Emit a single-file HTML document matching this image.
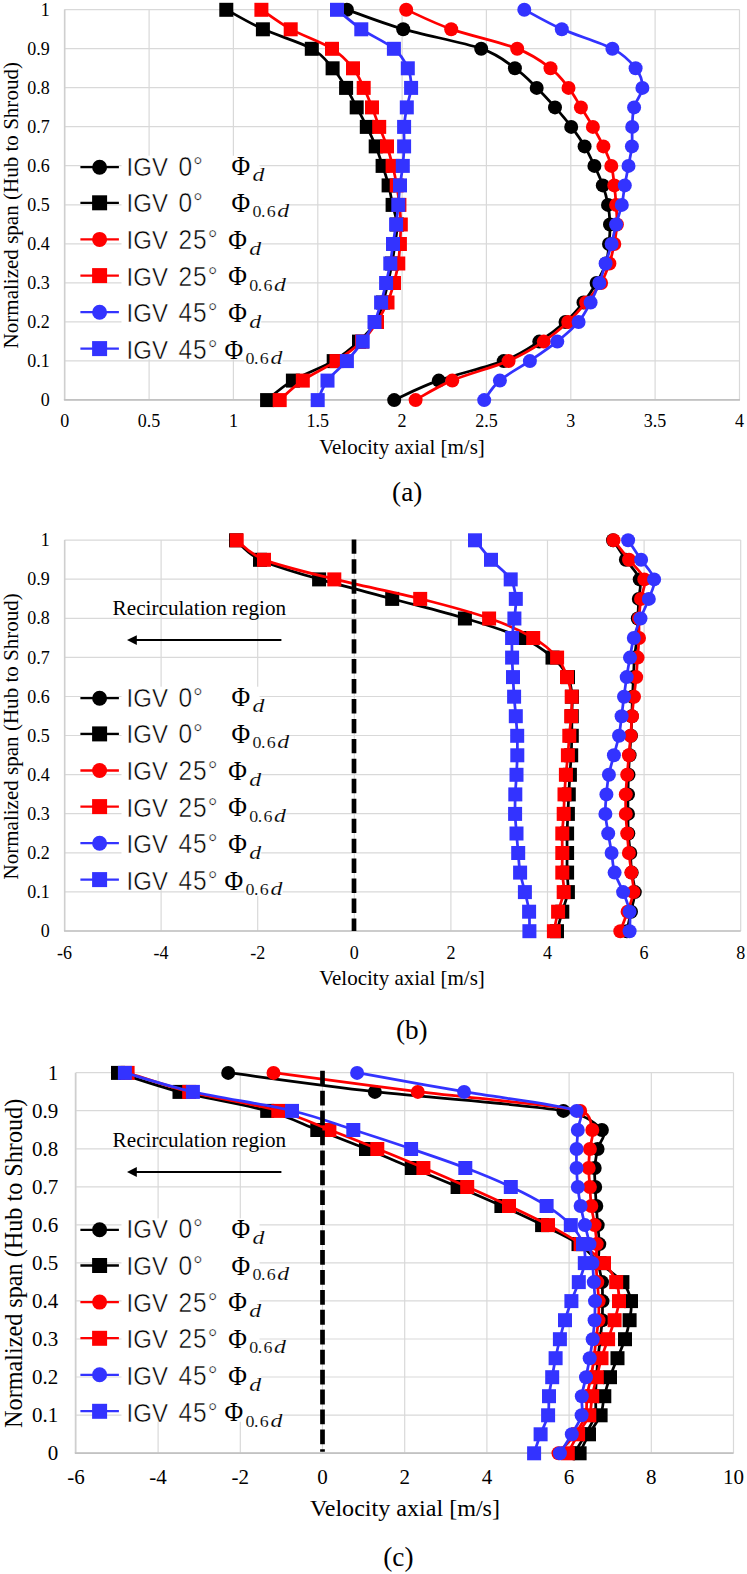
<!DOCTYPE html>
<html><head><meta charset="utf-8"><style>
html,body{margin:0;padding:0;background:#fff;overflow:hidden;}
svg{display:block;}
.sf{font-family:"Liberation Serif",serif;fill:#000;}
.sfi{font-family:"Liberation Serif",serif;font-style:italic;fill:#000;}
.ss{font-family:"Liberation Sans",sans-serif;fill:#000;}
.thin{stroke:#fff;stroke-width:0.45px;}
.thin2{stroke:#fff;stroke-width:0.12px;}
</style></head><body>
<svg width="747" height="1574" viewBox="0 0 747 1574">
<rect width="747" height="1574" fill="#fff"/>
<line x1="64.7" y1="399.9" x2="739.5" y2="399.9" stroke="#D9D9D9" stroke-width="1.2"/>
<line x1="64.7" y1="360.9" x2="739.5" y2="360.9" stroke="#D9D9D9" stroke-width="1.2"/>
<line x1="64.7" y1="321.8" x2="739.5" y2="321.8" stroke="#D9D9D9" stroke-width="1.2"/>
<line x1="64.7" y1="282.8" x2="739.5" y2="282.8" stroke="#D9D9D9" stroke-width="1.2"/>
<line x1="64.7" y1="243.8" x2="739.5" y2="243.8" stroke="#D9D9D9" stroke-width="1.2"/>
<line x1="64.7" y1="204.8" x2="739.5" y2="204.8" stroke="#D9D9D9" stroke-width="1.2"/>
<line x1="64.7" y1="165.7" x2="739.5" y2="165.7" stroke="#D9D9D9" stroke-width="1.2"/>
<line x1="64.7" y1="126.7" x2="739.5" y2="126.7" stroke="#D9D9D9" stroke-width="1.2"/>
<line x1="64.7" y1="87.7" x2="739.5" y2="87.7" stroke="#D9D9D9" stroke-width="1.2"/>
<line x1="64.7" y1="48.6" x2="739.5" y2="48.6" stroke="#D9D9D9" stroke-width="1.2"/>
<line x1="64.7" y1="9.6" x2="739.5" y2="9.6" stroke="#D9D9D9" stroke-width="1.2"/>
<line x1="64.7" y1="9.6" x2="64.7" y2="399.9" stroke="#D9D9D9" stroke-width="1.2"/>
<line x1="149.1" y1="9.6" x2="149.1" y2="399.9" stroke="#D9D9D9" stroke-width="1.2"/>
<line x1="233.4" y1="9.6" x2="233.4" y2="399.9" stroke="#D9D9D9" stroke-width="1.2"/>
<line x1="317.8" y1="9.6" x2="317.8" y2="399.9" stroke="#D9D9D9" stroke-width="1.2"/>
<line x1="402.1" y1="9.6" x2="402.1" y2="399.9" stroke="#D9D9D9" stroke-width="1.2"/>
<line x1="486.4" y1="9.6" x2="486.4" y2="399.9" stroke="#D9D9D9" stroke-width="1.2"/>
<line x1="570.8" y1="9.6" x2="570.8" y2="399.9" stroke="#D9D9D9" stroke-width="1.2"/>
<line x1="655.1" y1="9.6" x2="655.1" y2="399.9" stroke="#D9D9D9" stroke-width="1.2"/>
<line x1="739.5" y1="9.6" x2="739.5" y2="399.9" stroke="#D9D9D9" stroke-width="1.2"/>
<line x1="64.6" y1="9.6" x2="64.6" y2="399.9" stroke="#CFCFCF" stroke-width="1.5"/><line x1="63.89999999999999" y1="399.9" x2="740" y2="399.9" stroke="#C2C2C2" stroke-width="1.7"/>
<text x="49.8" y="406.0" text-anchor="end" class="sf" font-size="18">0</text>
<text x="49.8" y="367.0" text-anchor="end" class="sf" font-size="18">0.1</text>
<text x="49.8" y="328.0" text-anchor="end" class="sf" font-size="18">0.2</text>
<text x="49.8" y="288.9" text-anchor="end" class="sf" font-size="18">0.3</text>
<text x="49.8" y="249.9" text-anchor="end" class="sf" font-size="18">0.4</text>
<text x="49.8" y="210.9" text-anchor="end" class="sf" font-size="18">0.5</text>
<text x="49.8" y="171.8" text-anchor="end" class="sf" font-size="18">0.6</text>
<text x="49.8" y="132.8" text-anchor="end" class="sf" font-size="18">0.7</text>
<text x="49.8" y="93.8" text-anchor="end" class="sf" font-size="18">0.8</text>
<text x="49.8" y="54.7" text-anchor="end" class="sf" font-size="18">0.9</text>
<text x="49.8" y="15.7" text-anchor="end" class="sf" font-size="18">1</text>
<text x="64.7" y="427.0" text-anchor="middle" class="sf" font-size="18">0</text>
<text x="149.1" y="427.0" text-anchor="middle" class="sf" font-size="18">0.5</text>
<text x="233.4" y="427.0" text-anchor="middle" class="sf" font-size="18">1</text>
<text x="317.8" y="427.0" text-anchor="middle" class="sf" font-size="18">1.5</text>
<text x="402.1" y="427.0" text-anchor="middle" class="sf" font-size="18">2</text>
<text x="486.4" y="427.0" text-anchor="middle" class="sf" font-size="18">2.5</text>
<text x="570.8" y="427.0" text-anchor="middle" class="sf" font-size="18">3</text>
<text x="655.1" y="427.0" text-anchor="middle" class="sf" font-size="18">3.5</text>
<text x="739.5" y="427.0" text-anchor="middle" class="sf" font-size="18">4</text>
<rect x="121.5" y="155.7" width="138" height="203.4" fill="#fff"/>
<line x1="80.4" y1="167.2" x2="118.9" y2="167.2" stroke="#000000" stroke-width="2.3"/>
<circle cx="99.6" cy="167.2" r="7.5" fill="#000000"/>
<text x="0" y="0" class="ss thin" font-size="24" transform="translate(126.6,175.6) scale(1,1.1)">IGV</text>
<text x="0" y="0" class="ss thin" font-size="24.5" letter-spacing="1" transform="translate(178.5,175.6) scale(1,1.1)">0°</text>
<text x="231.4" y="175.5" class="sf" font-size="25.5" transform="translate(0,175.5) scale(1,1.04) translate(0,-175.5)">Φ</text>
<rect x="251.4" y="167.4" width="13" height="15" fill="#fff"/>
<text x="0" y="0" class="sfi thin2" font-size="19.5" transform="translate(252.4,181.4) scale(1.22,0.96)">d</text>
<line x1="80.4" y1="202.8" x2="118.9" y2="202.8" stroke="#000000" stroke-width="2.3"/>
<rect x="92.1" y="195.3" width="15" height="15" fill="#000000"/>
<text x="0" y="0" class="ss thin" font-size="24" transform="translate(126.6,212.2) scale(1,1.1)">IGV</text>
<text x="0" y="0" class="ss thin" font-size="24.5" letter-spacing="1" transform="translate(178.5,212.2) scale(1,1.1)">0°</text>
<text x="231.4" y="212.2" class="sf" font-size="25.5" transform="translate(0,212.2) scale(1,1.04) translate(0,-212.2)">Φ</text>
<rect x="251.4" y="204.2" width="38" height="14" fill="#fff"/>
<text x="0" y="0" class="sf thin2" font-size="16" transform="translate(252.4,217.2) scale(1.12,1)">0</text>
<text x="0" y="0" class="sf thin2" font-size="16" transform="translate(261.0,217.2) scale(1.12,1)">.</text>
<text x="0" y="0" class="sf thin2" font-size="16" transform="translate(266.7,217.2) scale(1.12,1)">6</text>
<text x="0" y="0" class="sfi thin2" font-size="19.5" transform="translate(277.3,217.2) scale(1.22,0.96)">d</text>
<line x1="80.4" y1="239.4" x2="118.9" y2="239.4" stroke="#FF0000" stroke-width="2.3"/>
<circle cx="99.6" cy="239.4" r="7.5" fill="#FF0000"/>
<text x="0" y="0" class="ss thin" font-size="24" transform="translate(126.6,248.9) scale(1,1.1)">IGV</text>
<text x="0" y="0" class="ss thin" font-size="24.5" letter-spacing="1" transform="translate(178.5,248.9) scale(1,1.1)">25°</text>
<text x="228.20000000000002" y="248.8" class="sf" font-size="25.5" transform="translate(0,248.8) scale(1,1.04) translate(0,-248.8)">Φ</text>
<rect x="248.2" y="240.7" width="13" height="15" fill="#fff"/>
<text x="0" y="0" class="sfi thin2" font-size="19.5" transform="translate(249.2,254.7) scale(1.22,0.96)">d</text>
<line x1="80.4" y1="275.6" x2="118.9" y2="275.6" stroke="#FF0000" stroke-width="2.3"/>
<rect x="92.1" y="268.1" width="15" height="15" fill="#FF0000"/>
<text x="0" y="0" class="ss thin" font-size="24" transform="translate(126.6,285.5) scale(1,1.1)">IGV</text>
<text x="0" y="0" class="ss thin" font-size="24.5" letter-spacing="1" transform="translate(178.5,285.5) scale(1,1.1)">25°</text>
<text x="228.20000000000002" y="285.4" class="sf" font-size="25.5" transform="translate(0,285.4) scale(1,1.04) translate(0,-285.4)">Φ</text>
<rect x="248.2" y="277.5" width="38" height="14" fill="#fff"/>
<text x="0" y="0" class="sf thin2" font-size="16" transform="translate(249.2,290.5) scale(1.12,1)">0</text>
<text x="0" y="0" class="sf thin2" font-size="16" transform="translate(257.8,290.5) scale(1.12,1)">.</text>
<text x="0" y="0" class="sf thin2" font-size="16" transform="translate(263.5,290.5) scale(1.12,1)">6</text>
<text x="0" y="0" class="sfi thin2" font-size="19.5" transform="translate(274.1,290.5) scale(1.22,0.96)">d</text>
<line x1="80.4" y1="312.2" x2="118.9" y2="312.2" stroke="#3333FF" stroke-width="2.3"/>
<circle cx="99.6" cy="312.2" r="7.5" fill="#3333FF"/>
<text x="0" y="0" class="ss thin" font-size="24" transform="translate(126.6,322.2) scale(1,1.1)">IGV</text>
<text x="0" y="0" class="ss thin" font-size="24.5" letter-spacing="1" transform="translate(178.5,322.2) scale(1,1.1)">45°</text>
<text x="228.20000000000002" y="322.1" class="sf" font-size="25.5" transform="translate(0,322.1) scale(1,1.04) translate(0,-322.1)">Φ</text>
<rect x="248.2" y="314.0" width="13" height="15" fill="#fff"/>
<text x="0" y="0" class="sfi thin2" font-size="19.5" transform="translate(249.2,328.0) scale(1.22,0.96)">d</text>
<line x1="80.4" y1="348.6" x2="118.9" y2="348.6" stroke="#3333FF" stroke-width="2.3"/>
<rect x="92.1" y="341.1" width="15" height="15" fill="#3333FF"/>
<text x="0" y="0" class="ss thin" font-size="24" transform="translate(126.6,358.8) scale(1,1.1)">IGV</text>
<text x="0" y="0" class="ss thin" font-size="24.5" letter-spacing="1" transform="translate(178.5,358.8) scale(1,1.1)">45°</text>
<text x="224.5" y="358.8" class="sf" font-size="25.5" transform="translate(0,358.8) scale(1,1.04) translate(0,-358.8)">Φ</text>
<rect x="244.5" y="350.8" width="38" height="14" fill="#fff"/>
<text x="0" y="0" class="sf thin2" font-size="16" transform="translate(245.5,363.8) scale(1.12,1)">0</text>
<text x="0" y="0" class="sf thin2" font-size="16" transform="translate(254.1,363.8) scale(1.12,1)">.</text>
<text x="0" y="0" class="sf thin2" font-size="16" transform="translate(259.8,363.8) scale(1.12,1)">6</text>
<text x="0" y="0" class="sfi thin2" font-size="19.5" transform="translate(270.4,363.8) scale(1.22,0.96)">d</text>
<path d="M394.20,399.90 C401.63,396.65 420.55,386.89 438.80,380.38 C457.05,373.88 486.95,367.38 503.70,360.87 C520.45,354.37 529.00,347.86 539.30,341.35 C549.60,334.85 558.13,328.34 565.50,321.84 C572.87,315.33 578.32,308.83 583.50,302.32 C588.68,295.82 592.85,289.31 596.60,282.81 C600.35,276.30 603.93,269.80 606.00,263.29 C608.07,256.79 608.33,250.28 609.00,243.78 C609.67,237.27 610.17,230.77 610.00,224.26 C609.83,217.76 609.20,211.25 608.00,204.75 C606.80,198.25 605.07,191.74 602.80,185.23 C600.53,178.73 597.43,172.22 594.40,165.72 C591.37,159.21 588.47,152.71 584.60,146.20 C580.73,139.70 576.13,133.19 571.20,126.69 C566.27,120.19 560.75,113.68 555.00,107.18 C549.25,100.67 543.38,94.16 536.70,87.66 C530.02,81.15 524.15,74.65 514.90,68.14 C505.65,61.64 499.58,55.05 481.20,48.63 C462.58,42.12 425.58,35.62 403.20,29.12 C380.82,22.61 356.28,12.85 346.90,9.60" fill="none" stroke="#000000" stroke-width="2.75" stroke-linejoin="round"/>
<circle cx="394.2" cy="400.1" r="7.0" fill="#000000"/>
<circle cx="438.8" cy="380.6" r="7.0" fill="#000000"/>
<circle cx="503.7" cy="361.1" r="7.0" fill="#000000"/>
<circle cx="539.3" cy="341.6" r="7.0" fill="#000000"/>
<circle cx="565.5" cy="322.0" r="7.0" fill="#000000"/>
<circle cx="583.5" cy="302.5" r="7.0" fill="#000000"/>
<circle cx="596.6" cy="283.0" r="7.0" fill="#000000"/>
<circle cx="606.0" cy="263.5" r="7.0" fill="#000000"/>
<circle cx="609.0" cy="244.0" r="7.0" fill="#000000"/>
<circle cx="610.0" cy="224.5" r="7.0" fill="#000000"/>
<circle cx="608.0" cy="204.9" r="7.0" fill="#000000"/>
<circle cx="602.8" cy="185.4" r="7.0" fill="#000000"/>
<circle cx="594.4" cy="165.9" r="7.0" fill="#000000"/>
<circle cx="584.6" cy="146.4" r="7.0" fill="#000000"/>
<circle cx="571.2" cy="126.9" r="7.0" fill="#000000"/>
<circle cx="555.0" cy="107.4" r="7.0" fill="#000000"/>
<circle cx="536.7" cy="87.9" r="7.0" fill="#000000"/>
<circle cx="514.9" cy="68.3" r="7.0" fill="#000000"/>
<circle cx="481.2" cy="48.8" r="7.0" fill="#000000"/>
<circle cx="403.2" cy="29.3" r="7.0" fill="#000000"/>
<circle cx="346.9" cy="9.8" r="7.0" fill="#000000"/>
<path d="M267.10,399.90 C271.40,396.65 281.80,386.89 292.90,380.38 C304.00,373.88 322.68,367.38 333.70,360.87 C344.72,354.37 351.95,347.86 359.00,341.35 C366.05,334.85 372.00,328.34 376.00,321.84 C380.00,315.33 381.00,308.83 383.00,302.32 C385.00,295.82 386.50,289.31 388.00,282.81 C389.50,276.30 390.83,269.80 392.00,263.29 C393.17,256.79 394.17,250.28 395.00,243.78 C395.83,237.27 397.40,230.77 397.00,224.26 C396.60,217.76 394.00,211.25 392.60,204.75 C391.20,198.25 390.27,191.74 388.60,185.23 C386.93,178.73 384.75,172.22 382.60,165.72 C380.45,159.21 378.33,152.71 375.70,146.20 C373.07,139.70 369.97,133.19 366.80,126.69 C363.63,120.19 360.15,113.68 356.70,107.18 C353.25,100.67 350.12,94.16 346.10,87.66 C342.08,81.15 338.32,74.65 332.60,68.14 C326.88,61.64 323.42,55.13 311.80,48.63 C300.18,42.12 277.15,35.62 262.90,29.12 C248.65,22.61 232.40,12.85 226.30,9.60" fill="none" stroke="#000000" stroke-width="2.75" stroke-linejoin="round"/>
<rect x="260.1" y="393.1" width="14" height="14" fill="#000000"/>
<rect x="285.9" y="373.6" width="14" height="14" fill="#000000"/>
<rect x="326.7" y="354.1" width="14" height="14" fill="#000000"/>
<rect x="352.0" y="334.6" width="14" height="14" fill="#000000"/>
<rect x="369.0" y="315.0" width="14" height="14" fill="#000000"/>
<rect x="376.0" y="295.5" width="14" height="14" fill="#000000"/>
<rect x="381.0" y="276.0" width="14" height="14" fill="#000000"/>
<rect x="385.0" y="256.5" width="14" height="14" fill="#000000"/>
<rect x="388.0" y="237.0" width="14" height="14" fill="#000000"/>
<rect x="390.0" y="217.5" width="14" height="14" fill="#000000"/>
<rect x="385.6" y="197.9" width="14" height="14" fill="#000000"/>
<rect x="381.6" y="178.4" width="14" height="14" fill="#000000"/>
<rect x="375.6" y="158.9" width="14" height="14" fill="#000000"/>
<rect x="368.7" y="139.4" width="14" height="14" fill="#000000"/>
<rect x="359.8" y="119.9" width="14" height="14" fill="#000000"/>
<rect x="349.7" y="100.4" width="14" height="14" fill="#000000"/>
<rect x="339.1" y="80.9" width="14" height="14" fill="#000000"/>
<rect x="325.6" y="61.3" width="14" height="14" fill="#000000"/>
<rect x="304.8" y="41.8" width="14" height="14" fill="#000000"/>
<rect x="255.9" y="22.3" width="14" height="14" fill="#000000"/>
<rect x="219.3" y="2.8" width="14" height="14" fill="#000000"/>
<path d="M415.60,399.90 C421.72,396.65 436.80,386.89 452.30,380.38 C467.80,373.88 493.35,367.38 508.60,360.87 C523.85,354.37 533.87,347.86 543.80,341.35 C553.73,334.85 561.15,328.34 568.20,321.84 C575.25,315.33 580.62,308.83 586.10,302.32 C591.58,295.82 597.22,289.31 601.10,282.81 C604.98,276.30 607.20,269.80 609.40,263.29 C611.60,256.79 613.05,250.28 614.30,243.78 C615.55,237.27 616.60,230.77 616.90,224.26 C617.20,217.76 616.53,211.25 616.10,204.75 C615.67,198.25 615.10,191.74 614.30,185.23 C613.50,178.73 613.12,172.22 611.30,165.72 C609.48,159.21 606.47,152.71 603.40,146.20 C600.33,139.70 596.65,133.19 592.90,126.69 C589.15,120.19 584.97,113.68 580.90,107.18 C576.83,100.67 573.57,94.16 568.50,87.66 C563.43,81.15 559.05,74.65 550.50,68.14 C541.95,61.64 533.75,55.13 517.20,48.63 C500.65,42.12 469.70,35.62 451.20,29.12 C432.70,22.61 413.70,12.85 406.20,9.60" fill="none" stroke="#FF0000" stroke-width="2.75" stroke-linejoin="round"/>
<circle cx="415.6" cy="400.1" r="7.0" fill="#FF0000"/>
<circle cx="452.3" cy="380.6" r="7.0" fill="#FF0000"/>
<circle cx="508.6" cy="361.1" r="7.0" fill="#FF0000"/>
<circle cx="543.8" cy="341.6" r="7.0" fill="#FF0000"/>
<circle cx="568.2" cy="322.0" r="7.0" fill="#FF0000"/>
<circle cx="586.1" cy="302.5" r="7.0" fill="#FF0000"/>
<circle cx="601.1" cy="283.0" r="7.0" fill="#FF0000"/>
<circle cx="609.4" cy="263.5" r="7.0" fill="#FF0000"/>
<circle cx="614.3" cy="244.0" r="7.0" fill="#FF0000"/>
<circle cx="616.9" cy="224.5" r="7.0" fill="#FF0000"/>
<circle cx="616.1" cy="204.9" r="7.0" fill="#FF0000"/>
<circle cx="614.3" cy="185.4" r="7.0" fill="#FF0000"/>
<circle cx="611.3" cy="165.9" r="7.0" fill="#FF0000"/>
<circle cx="603.4" cy="146.4" r="7.0" fill="#FF0000"/>
<circle cx="592.9" cy="126.9" r="7.0" fill="#FF0000"/>
<circle cx="580.9" cy="107.4" r="7.0" fill="#FF0000"/>
<circle cx="568.5" cy="87.9" r="7.0" fill="#FF0000"/>
<circle cx="550.5" cy="68.3" r="7.0" fill="#FF0000"/>
<circle cx="517.2" cy="48.8" r="7.0" fill="#FF0000"/>
<circle cx="451.2" cy="29.3" r="7.0" fill="#FF0000"/>
<circle cx="406.2" cy="9.8" r="7.0" fill="#FF0000"/>
<path d="M279.70,399.90 C283.55,396.65 293.33,386.89 302.80,380.38 C312.27,373.88 326.63,367.38 336.50,360.87 C346.37,354.37 355.25,347.86 362.00,341.35 C368.75,334.85 372.75,328.34 377.00,321.84 C381.25,315.33 384.67,308.83 387.50,302.32 C390.33,295.82 392.20,289.31 394.00,282.81 C395.80,276.30 397.32,269.80 398.30,263.29 C399.28,256.79 399.48,250.28 399.90,243.78 C400.32,237.27 400.88,230.77 400.80,224.26 C400.72,217.76 400.08,211.25 399.40,204.75 C398.72,198.25 397.83,191.74 396.70,185.23 C395.57,178.73 394.22,172.22 392.60,165.72 C390.98,159.21 389.23,152.71 387.00,146.20 C384.77,139.70 381.70,133.19 379.20,126.69 C376.70,120.19 374.58,113.68 372.00,107.18 C369.42,100.67 366.87,94.16 363.70,87.66 C360.53,81.15 358.28,74.65 353.00,68.14 C347.72,61.64 342.38,55.13 332.00,48.63 C321.62,42.12 302.47,35.62 290.70,29.12 C278.93,22.61 266.28,12.85 261.40,9.60" fill="none" stroke="#FF0000" stroke-width="2.75" stroke-linejoin="round"/>
<rect x="272.7" y="393.1" width="14" height="14" fill="#FF0000"/>
<rect x="295.8" y="373.6" width="14" height="14" fill="#FF0000"/>
<rect x="329.5" y="354.1" width="14" height="14" fill="#FF0000"/>
<rect x="355.0" y="334.6" width="14" height="14" fill="#FF0000"/>
<rect x="370.0" y="315.0" width="14" height="14" fill="#FF0000"/>
<rect x="380.5" y="295.5" width="14" height="14" fill="#FF0000"/>
<rect x="387.0" y="276.0" width="14" height="14" fill="#FF0000"/>
<rect x="391.3" y="256.5" width="14" height="14" fill="#FF0000"/>
<rect x="392.9" y="237.0" width="14" height="14" fill="#FF0000"/>
<rect x="393.8" y="217.5" width="14" height="14" fill="#FF0000"/>
<rect x="392.4" y="197.9" width="14" height="14" fill="#FF0000"/>
<rect x="389.7" y="178.4" width="14" height="14" fill="#FF0000"/>
<rect x="385.6" y="158.9" width="14" height="14" fill="#FF0000"/>
<rect x="380.0" y="139.4" width="14" height="14" fill="#FF0000"/>
<rect x="372.2" y="119.9" width="14" height="14" fill="#FF0000"/>
<rect x="365.0" y="100.4" width="14" height="14" fill="#FF0000"/>
<rect x="356.7" y="80.9" width="14" height="14" fill="#FF0000"/>
<rect x="346.0" y="61.3" width="14" height="14" fill="#FF0000"/>
<rect x="325.0" y="41.8" width="14" height="14" fill="#FF0000"/>
<rect x="283.7" y="22.3" width="14" height="14" fill="#FF0000"/>
<rect x="254.4" y="2.8" width="14" height="14" fill="#FF0000"/>
<path d="M484.20,399.90 C486.82,396.65 492.28,386.89 499.90,380.38 C507.52,373.88 520.33,367.38 529.90,360.87 C539.47,354.37 549.18,347.86 557.30,341.35 C565.42,334.85 573.05,328.34 578.60,321.84 C584.15,315.33 587.15,308.83 590.60,302.32 C594.05,295.82 596.80,289.31 599.30,282.81 C601.80,276.30 603.55,269.80 605.60,263.29 C607.65,256.79 609.85,250.28 611.60,243.78 C613.35,237.27 614.40,230.77 616.10,224.26 C617.80,217.76 620.35,211.25 621.80,204.75 C623.25,198.25 623.68,191.74 624.80,185.23 C625.92,178.73 627.32,172.22 628.50,165.72 C629.68,159.21 631.28,152.71 631.90,146.20 C632.52,139.70 631.83,133.19 632.20,126.69 C632.57,120.19 632.40,113.68 634.10,107.18 C635.80,100.67 642.15,94.16 642.40,87.66 C642.65,81.15 640.60,74.65 635.60,68.14 C630.60,61.64 624.70,55.13 612.40,48.63 C600.10,42.12 576.48,35.62 561.80,29.12 C547.12,22.61 530.55,12.85 524.30,9.60" fill="none" stroke="#3333FF" stroke-width="2.75" stroke-linejoin="round"/>
<circle cx="484.2" cy="400.1" r="7.0" fill="#3333FF"/>
<circle cx="499.9" cy="380.6" r="7.0" fill="#3333FF"/>
<circle cx="529.9" cy="361.1" r="7.0" fill="#3333FF"/>
<circle cx="557.3" cy="341.6" r="7.0" fill="#3333FF"/>
<circle cx="578.6" cy="322.0" r="7.0" fill="#3333FF"/>
<circle cx="590.6" cy="302.5" r="7.0" fill="#3333FF"/>
<circle cx="599.3" cy="283.0" r="7.0" fill="#3333FF"/>
<circle cx="605.6" cy="263.5" r="7.0" fill="#3333FF"/>
<circle cx="611.6" cy="244.0" r="7.0" fill="#3333FF"/>
<circle cx="616.1" cy="224.5" r="7.0" fill="#3333FF"/>
<circle cx="621.8" cy="204.9" r="7.0" fill="#3333FF"/>
<circle cx="624.8" cy="185.4" r="7.0" fill="#3333FF"/>
<circle cx="628.5" cy="165.9" r="7.0" fill="#3333FF"/>
<circle cx="631.9" cy="146.4" r="7.0" fill="#3333FF"/>
<circle cx="632.2" cy="126.9" r="7.0" fill="#3333FF"/>
<circle cx="634.1" cy="107.4" r="7.0" fill="#3333FF"/>
<circle cx="642.4" cy="87.9" r="7.0" fill="#3333FF"/>
<circle cx="635.6" cy="68.3" r="7.0" fill="#3333FF"/>
<circle cx="612.4" cy="48.8" r="7.0" fill="#3333FF"/>
<circle cx="561.8" cy="29.3" r="7.0" fill="#3333FF"/>
<circle cx="524.3" cy="9.8" r="7.0" fill="#3333FF"/>
<path d="M317.70,399.90 C319.33,396.65 322.63,386.89 327.50,380.38 C332.37,373.88 341.03,367.38 346.90,360.87 C352.77,354.37 358.10,347.86 362.70,341.35 C367.30,334.85 371.43,328.34 374.50,321.84 C377.57,315.33 379.17,308.83 381.10,302.32 C383.03,295.82 384.57,289.31 386.10,282.81 C387.63,276.30 389.15,269.80 390.30,263.29 C391.45,256.79 392.03,250.28 393.00,243.78 C393.97,237.27 395.22,230.77 396.10,224.26 C396.98,217.76 397.65,211.25 398.30,204.75 C398.95,198.25 399.25,191.74 400.00,185.23 C400.75,178.73 402.12,172.22 402.80,165.72 C403.48,159.21 403.88,152.71 404.10,146.20 C404.32,139.70 403.65,133.19 404.10,126.69 C404.55,120.19 405.63,113.68 406.80,107.18 C407.97,100.67 410.93,94.16 411.10,87.66 C411.27,81.15 410.67,74.65 407.80,68.14 C404.93,61.64 401.65,55.13 393.90,48.63 C386.15,42.12 370.78,35.62 361.30,29.12 C351.82,22.61 341.05,12.85 337.00,9.60" fill="none" stroke="#3333FF" stroke-width="2.75" stroke-linejoin="round"/>
<rect x="310.7" y="393.1" width="14" height="14" fill="#3333FF"/>
<rect x="320.5" y="373.6" width="14" height="14" fill="#3333FF"/>
<rect x="339.9" y="354.1" width="14" height="14" fill="#3333FF"/>
<rect x="355.7" y="334.6" width="14" height="14" fill="#3333FF"/>
<rect x="367.5" y="315.0" width="14" height="14" fill="#3333FF"/>
<rect x="374.1" y="295.5" width="14" height="14" fill="#3333FF"/>
<rect x="379.1" y="276.0" width="14" height="14" fill="#3333FF"/>
<rect x="383.3" y="256.5" width="14" height="14" fill="#3333FF"/>
<rect x="386.0" y="237.0" width="14" height="14" fill="#3333FF"/>
<rect x="389.1" y="217.5" width="14" height="14" fill="#3333FF"/>
<rect x="391.3" y="197.9" width="14" height="14" fill="#3333FF"/>
<rect x="393.0" y="178.4" width="14" height="14" fill="#3333FF"/>
<rect x="395.8" y="158.9" width="14" height="14" fill="#3333FF"/>
<rect x="397.1" y="139.4" width="14" height="14" fill="#3333FF"/>
<rect x="397.1" y="119.9" width="14" height="14" fill="#3333FF"/>
<rect x="399.8" y="100.4" width="14" height="14" fill="#3333FF"/>
<rect x="404.1" y="80.9" width="14" height="14" fill="#3333FF"/>
<rect x="400.8" y="61.3" width="14" height="14" fill="#3333FF"/>
<rect x="386.9" y="41.8" width="14" height="14" fill="#3333FF"/>
<rect x="354.3" y="22.3" width="14" height="14" fill="#3333FF"/>
<rect x="330.0" y="2.8" width="14" height="14" fill="#3333FF"/>
<text x="402" y="454" text-anchor="middle" class="sf" font-size="21">Velocity axial [m/s]</text>
<text transform="translate(18.4,205.25) rotate(-90)" text-anchor="middle" class="sf" font-size="21.05">Normalized span (Hub to Shroud)</text>
<text x="407.2" y="501" text-anchor="middle" class="sf" font-size="27.2">(a)</text>
<line x1="64.5" y1="931.0" x2="740.7" y2="931.0" stroke="#D9D9D9" stroke-width="1.2"/>
<line x1="64.5" y1="891.9" x2="740.7" y2="891.9" stroke="#D9D9D9" stroke-width="1.2"/>
<line x1="64.5" y1="852.8" x2="740.7" y2="852.8" stroke="#D9D9D9" stroke-width="1.2"/>
<line x1="64.5" y1="813.7" x2="740.7" y2="813.7" stroke="#D9D9D9" stroke-width="1.2"/>
<line x1="64.5" y1="774.6" x2="740.7" y2="774.6" stroke="#D9D9D9" stroke-width="1.2"/>
<line x1="64.5" y1="735.5" x2="740.7" y2="735.5" stroke="#D9D9D9" stroke-width="1.2"/>
<line x1="64.5" y1="696.5" x2="740.7" y2="696.5" stroke="#D9D9D9" stroke-width="1.2"/>
<line x1="64.5" y1="657.4" x2="740.7" y2="657.4" stroke="#D9D9D9" stroke-width="1.2"/>
<line x1="64.5" y1="618.3" x2="740.7" y2="618.3" stroke="#D9D9D9" stroke-width="1.2"/>
<line x1="64.5" y1="579.2" x2="740.7" y2="579.2" stroke="#D9D9D9" stroke-width="1.2"/>
<line x1="64.5" y1="540.1" x2="740.7" y2="540.1" stroke="#D9D9D9" stroke-width="1.2"/>
<line x1="64.5" y1="540.1" x2="64.5" y2="931" stroke="#D9D9D9" stroke-width="1.2"/>
<line x1="161.1" y1="540.1" x2="161.1" y2="931" stroke="#D9D9D9" stroke-width="1.2"/>
<line x1="257.7" y1="540.1" x2="257.7" y2="931" stroke="#D9D9D9" stroke-width="1.2"/>
<line x1="354.3" y1="540.1" x2="354.3" y2="931" stroke="#D9D9D9" stroke-width="1.2"/>
<line x1="450.9" y1="540.1" x2="450.9" y2="931" stroke="#D9D9D9" stroke-width="1.2"/>
<line x1="547.5" y1="540.1" x2="547.5" y2="931" stroke="#D9D9D9" stroke-width="1.2"/>
<line x1="644.1" y1="540.1" x2="644.1" y2="931" stroke="#D9D9D9" stroke-width="1.2"/>
<line x1="740.7" y1="540.1" x2="740.7" y2="931" stroke="#D9D9D9" stroke-width="1.2"/>
<line x1="64.7" y1="540.1" x2="64.7" y2="931" stroke="#CFCFCF" stroke-width="1.5"/><line x1="64.0" y1="931" x2="740.7" y2="931" stroke="#C2C2C2" stroke-width="1.7"/>
<text x="49.8" y="937.1" text-anchor="end" class="sf" font-size="18">0</text>
<text x="49.8" y="898.0" text-anchor="end" class="sf" font-size="18">0.1</text>
<text x="49.8" y="858.9" text-anchor="end" class="sf" font-size="18">0.2</text>
<text x="49.8" y="819.9" text-anchor="end" class="sf" font-size="18">0.3</text>
<text x="49.8" y="780.8" text-anchor="end" class="sf" font-size="18">0.4</text>
<text x="49.8" y="741.7" text-anchor="end" class="sf" font-size="18">0.5</text>
<text x="49.8" y="702.6" text-anchor="end" class="sf" font-size="18">0.6</text>
<text x="49.8" y="663.5" text-anchor="end" class="sf" font-size="18">0.7</text>
<text x="49.8" y="624.4" text-anchor="end" class="sf" font-size="18">0.8</text>
<text x="49.8" y="585.3" text-anchor="end" class="sf" font-size="18">0.9</text>
<text x="49.8" y="546.2" text-anchor="end" class="sf" font-size="18">1</text>
<text x="64.5" y="958.5" text-anchor="middle" class="sf" font-size="18">-6</text>
<text x="161.1" y="958.5" text-anchor="middle" class="sf" font-size="18">-4</text>
<text x="257.7" y="958.5" text-anchor="middle" class="sf" font-size="18">-2</text>
<text x="354.3" y="958.5" text-anchor="middle" class="sf" font-size="18">0</text>
<text x="450.9" y="958.5" text-anchor="middle" class="sf" font-size="18">2</text>
<text x="547.5" y="958.5" text-anchor="middle" class="sf" font-size="18">4</text>
<text x="644.1" y="958.5" text-anchor="middle" class="sf" font-size="18">6</text>
<text x="740.7" y="958.5" text-anchor="middle" class="sf" font-size="18">8</text>
<text x="112.6" y="614.8" class="sf" font-size="21.2">Recirculation region</text>
<line x1="135" y1="640.1" x2="281.4" y2="640.1" stroke="#000" stroke-width="2"/>
<polygon points="127,640.1 136.8,635.2 136.8,645.0" fill="#000"/>
<rect x="121.5" y="686.7" width="138" height="203.4" fill="#fff"/>
<line x1="80.4" y1="698.2" x2="118.9" y2="698.2" stroke="#000000" stroke-width="2.3"/>
<circle cx="99.6" cy="698.2" r="7.5" fill="#000000"/>
<text x="0" y="0" class="ss thin" font-size="24" transform="translate(126.6,706.6) scale(1,1.1)">IGV</text>
<text x="0" y="0" class="ss thin" font-size="24.5" letter-spacing="1" transform="translate(178.5,706.6) scale(1,1.1)">0°</text>
<text x="231.4" y="706.5" class="sf" font-size="25.5" transform="translate(0,706.5) scale(1,1.04) translate(0,-706.5)">Φ</text>
<rect x="251.4" y="698.4" width="13" height="15" fill="#fff"/>
<text x="0" y="0" class="sfi thin2" font-size="19.5" transform="translate(252.4,712.4) scale(1.22,0.96)">d</text>
<line x1="80.4" y1="733.9" x2="118.9" y2="733.9" stroke="#000000" stroke-width="2.3"/>
<rect x="92.1" y="726.4" width="15" height="15" fill="#000000"/>
<text x="0" y="0" class="ss thin" font-size="24" transform="translate(126.6,743.2) scale(1,1.1)">IGV</text>
<text x="0" y="0" class="ss thin" font-size="24.5" letter-spacing="1" transform="translate(178.5,743.2) scale(1,1.1)">0°</text>
<text x="231.4" y="743.1" class="sf" font-size="25.5" transform="translate(0,743.1) scale(1,1.04) translate(0,-743.1)">Φ</text>
<rect x="251.4" y="735.2" width="38" height="14" fill="#fff"/>
<text x="0" y="0" class="sf thin2" font-size="16" transform="translate(252.4,748.2) scale(1.12,1)">0</text>
<text x="0" y="0" class="sf thin2" font-size="16" transform="translate(261.0,748.2) scale(1.12,1)">.</text>
<text x="0" y="0" class="sf thin2" font-size="16" transform="translate(266.7,748.2) scale(1.12,1)">6</text>
<text x="0" y="0" class="sfi thin2" font-size="19.5" transform="translate(277.3,748.2) scale(1.22,0.96)">d</text>
<line x1="80.4" y1="770.5" x2="118.9" y2="770.5" stroke="#FF0000" stroke-width="2.3"/>
<circle cx="99.6" cy="770.5" r="7.5" fill="#FF0000"/>
<text x="0" y="0" class="ss thin" font-size="24" transform="translate(126.6,779.9) scale(1,1.1)">IGV</text>
<text x="0" y="0" class="ss thin" font-size="24.5" letter-spacing="1" transform="translate(178.5,779.9) scale(1,1.1)">25°</text>
<text x="228.20000000000002" y="779.8" class="sf" font-size="25.5" transform="translate(0,779.8) scale(1,1.04) translate(0,-779.8)">Φ</text>
<rect x="248.2" y="771.7" width="13" height="15" fill="#fff"/>
<text x="0" y="0" class="sfi thin2" font-size="19.5" transform="translate(249.2,785.7) scale(1.22,0.96)">d</text>
<line x1="80.4" y1="806.6" x2="118.9" y2="806.6" stroke="#FF0000" stroke-width="2.3"/>
<rect x="92.1" y="799.1" width="15" height="15" fill="#FF0000"/>
<text x="0" y="0" class="ss thin" font-size="24" transform="translate(126.6,816.6) scale(1,1.1)">IGV</text>
<text x="0" y="0" class="ss thin" font-size="24.5" letter-spacing="1" transform="translate(178.5,816.6) scale(1,1.1)">25°</text>
<text x="228.20000000000002" y="816.5" class="sf" font-size="25.5" transform="translate(0,816.5) scale(1,1.04) translate(0,-816.5)">Φ</text>
<rect x="248.2" y="808.6" width="38" height="14" fill="#fff"/>
<text x="0" y="0" class="sf thin2" font-size="16" transform="translate(249.2,821.6) scale(1.12,1)">0</text>
<text x="0" y="0" class="sf thin2" font-size="16" transform="translate(257.8,821.6) scale(1.12,1)">.</text>
<text x="0" y="0" class="sf thin2" font-size="16" transform="translate(263.5,821.6) scale(1.12,1)">6</text>
<text x="0" y="0" class="sfi thin2" font-size="19.5" transform="translate(274.1,821.6) scale(1.22,0.96)">d</text>
<line x1="80.4" y1="843.2" x2="118.9" y2="843.2" stroke="#3333FF" stroke-width="2.3"/>
<circle cx="99.6" cy="843.2" r="7.5" fill="#3333FF"/>
<text x="0" y="0" class="ss thin" font-size="24" transform="translate(126.6,853.2) scale(1,1.1)">IGV</text>
<text x="0" y="0" class="ss thin" font-size="24.5" letter-spacing="1" transform="translate(178.5,853.2) scale(1,1.1)">45°</text>
<text x="228.20000000000002" y="853.1" class="sf" font-size="25.5" transform="translate(0,853.1) scale(1,1.04) translate(0,-853.1)">Φ</text>
<rect x="248.2" y="845.0" width="13" height="15" fill="#fff"/>
<text x="0" y="0" class="sfi thin2" font-size="19.5" transform="translate(249.2,859.0) scale(1.22,0.96)">d</text>
<line x1="80.4" y1="879.6" x2="118.9" y2="879.6" stroke="#3333FF" stroke-width="2.3"/>
<rect x="92.1" y="872.1" width="15" height="15" fill="#3333FF"/>
<text x="0" y="0" class="ss thin" font-size="24" transform="translate(126.6,889.9) scale(1,1.1)">IGV</text>
<text x="0" y="0" class="ss thin" font-size="24.5" letter-spacing="1" transform="translate(178.5,889.9) scale(1,1.1)">45°</text>
<text x="224.5" y="889.8" class="sf" font-size="25.5" transform="translate(0,889.8) scale(1,1.04) translate(0,-889.8)">Φ</text>
<rect x="244.5" y="881.9" width="38" height="14" fill="#fff"/>
<text x="0" y="0" class="sf thin2" font-size="16" transform="translate(245.5,894.9) scale(1.12,1)">0</text>
<text x="0" y="0" class="sf thin2" font-size="16" transform="translate(254.1,894.9) scale(1.12,1)">.</text>
<text x="0" y="0" class="sf thin2" font-size="16" transform="translate(259.8,894.9) scale(1.12,1)">6</text>
<text x="0" y="0" class="sfi thin2" font-size="19.5" transform="translate(270.4,894.9) scale(1.22,0.96)">d</text>
<path d="M626.90,931.00 C627.58,927.74 629.68,917.97 631.00,911.46 C632.32,904.94 634.68,898.42 634.80,891.91 C634.92,885.39 632.45,878.88 631.70,872.37 C630.95,865.85 630.87,859.33 630.30,852.82 C629.73,846.30 628.68,839.79 628.30,833.27 C627.92,826.76 628.05,820.25 628.00,813.73 C627.95,807.22 627.92,800.70 628.00,794.18 C628.08,787.67 628.23,781.15 628.50,774.64 C628.77,768.12 629.18,761.61 629.60,755.10 C630.02,748.58 630.63,742.06 631.00,735.55 C631.37,729.03 631.55,722.52 631.80,716.00 C632.05,709.49 632.22,702.98 632.50,696.46 C632.78,689.95 633.17,683.43 633.50,676.91 C633.83,670.40 633.92,663.88 634.50,657.37 C635.08,650.86 636.45,644.34 637.00,637.83 C637.55,631.31 637.50,624.79 637.80,618.28 C638.10,611.76 638.48,605.25 638.80,598.73 C639.12,592.22 641.85,585.71 639.70,579.19 C637.55,572.68 630.35,566.16 625.90,559.64 C621.45,553.13 615.15,543.36 613.00,540.10" fill="none" stroke="#000000" stroke-width="2.75" stroke-linejoin="round"/>
<circle cx="626.9" cy="931.2" r="7.0" fill="#000000"/>
<circle cx="631.0" cy="911.7" r="7.0" fill="#000000"/>
<circle cx="634.8" cy="892.1" r="7.0" fill="#000000"/>
<circle cx="631.7" cy="872.6" r="7.0" fill="#000000"/>
<circle cx="630.3" cy="853.0" r="7.0" fill="#000000"/>
<circle cx="628.3" cy="833.5" r="7.0" fill="#000000"/>
<circle cx="628.0" cy="813.9" r="7.0" fill="#000000"/>
<circle cx="628.0" cy="794.4" r="7.0" fill="#000000"/>
<circle cx="628.5" cy="774.8" r="7.0" fill="#000000"/>
<circle cx="629.6" cy="755.3" r="7.0" fill="#000000"/>
<circle cx="631.0" cy="735.8" r="7.0" fill="#000000"/>
<circle cx="631.8" cy="716.2" r="7.0" fill="#000000"/>
<circle cx="632.5" cy="696.7" r="7.0" fill="#000000"/>
<circle cx="633.5" cy="677.1" r="7.0" fill="#000000"/>
<circle cx="634.5" cy="657.6" r="7.0" fill="#000000"/>
<circle cx="637.0" cy="638.0" r="7.0" fill="#000000"/>
<circle cx="637.8" cy="618.5" r="7.0" fill="#000000"/>
<circle cx="638.8" cy="598.9" r="7.0" fill="#000000"/>
<circle cx="639.7" cy="579.4" r="7.0" fill="#000000"/>
<circle cx="625.9" cy="559.8" r="7.0" fill="#000000"/>
<circle cx="613.0" cy="540.3" r="7.0" fill="#000000"/>
<path d="M557.00,931.00 C557.88,927.74 560.48,917.97 562.30,911.46 C564.12,904.94 567.10,898.42 567.90,891.91 C568.70,885.39 567.23,878.88 567.10,872.37 C566.97,865.85 567.10,859.33 567.10,852.82 C567.10,846.30 566.97,839.79 567.10,833.27 C567.23,826.76 567.62,820.25 567.90,813.73 C568.18,807.22 568.47,800.70 568.80,794.18 C569.13,787.67 569.50,781.15 569.90,774.64 C570.30,768.12 570.88,761.61 571.20,755.10 C571.52,748.58 571.70,742.06 571.80,735.55 C571.90,729.03 571.77,722.52 571.80,716.00 C571.83,709.49 572.63,702.98 572.00,696.46 C571.37,689.95 571.25,683.43 568.00,676.91 C564.75,670.40 560.17,663.88 552.50,657.37 C544.83,650.86 536.60,644.34 522.00,637.83 C507.40,631.31 486.53,624.79 464.90,618.28 C443.27,611.76 416.50,605.25 392.20,598.73 C367.90,592.22 341.13,585.71 319.10,579.19 C297.07,572.68 273.85,566.16 260.00,559.64 C246.15,553.13 240.00,543.36 236.00,540.10" fill="none" stroke="#000000" stroke-width="2.75" stroke-linejoin="round"/>
<rect x="550.0" y="924.2" width="14" height="14" fill="#000000"/>
<rect x="555.3" y="904.7" width="14" height="14" fill="#000000"/>
<rect x="560.9" y="885.1" width="14" height="14" fill="#000000"/>
<rect x="560.1" y="865.6" width="14" height="14" fill="#000000"/>
<rect x="560.1" y="846.0" width="14" height="14" fill="#000000"/>
<rect x="560.1" y="826.5" width="14" height="14" fill="#000000"/>
<rect x="560.9" y="806.9" width="14" height="14" fill="#000000"/>
<rect x="561.8" y="787.4" width="14" height="14" fill="#000000"/>
<rect x="562.9" y="767.8" width="14" height="14" fill="#000000"/>
<rect x="564.2" y="748.3" width="14" height="14" fill="#000000"/>
<rect x="564.8" y="728.8" width="14" height="14" fill="#000000"/>
<rect x="564.8" y="709.2" width="14" height="14" fill="#000000"/>
<rect x="565.0" y="689.7" width="14" height="14" fill="#000000"/>
<rect x="561.0" y="670.1" width="14" height="14" fill="#000000"/>
<rect x="545.5" y="650.6" width="14" height="14" fill="#000000"/>
<rect x="515.0" y="631.0" width="14" height="14" fill="#000000"/>
<rect x="457.9" y="611.5" width="14" height="14" fill="#000000"/>
<rect x="385.2" y="591.9" width="14" height="14" fill="#000000"/>
<rect x="312.1" y="572.4" width="14" height="14" fill="#000000"/>
<rect x="253.0" y="552.8" width="14" height="14" fill="#000000"/>
<rect x="229.0" y="533.3" width="14" height="14" fill="#000000"/>
<path d="M620.30,931.00 C621.52,927.74 625.42,917.97 627.60,911.46 C629.78,904.94 632.78,898.42 633.40,891.91 C634.02,885.39 632.05,878.88 631.30,872.37 C630.55,865.85 629.58,859.33 628.90,852.82 C628.22,846.30 627.72,839.79 627.20,833.27 C626.68,826.76 626.03,820.25 625.80,813.73 C625.57,807.22 625.57,800.70 625.80,794.18 C626.03,787.67 626.68,781.15 627.20,774.64 C627.72,768.12 628.32,761.61 628.90,755.10 C629.48,748.58 630.18,742.06 630.70,735.55 C631.22,729.03 631.45,722.52 632.00,716.00 C632.55,709.49 633.30,702.98 634.00,696.46 C634.70,689.95 635.60,683.43 636.20,676.91 C636.80,670.40 637.13,663.88 637.60,657.37 C638.07,650.86 638.77,644.34 639.00,637.83 C639.23,631.31 638.67,624.79 639.00,618.28 C639.33,611.76 640.12,605.25 641.00,598.73 C641.88,592.22 646.30,585.71 644.30,579.19 C642.30,572.68 634.13,566.16 629.00,559.64 C623.87,553.13 616.08,543.36 613.50,540.10" fill="none" stroke="#FF0000" stroke-width="2.75" stroke-linejoin="round"/>
<circle cx="620.3" cy="931.2" r="7.0" fill="#FF0000"/>
<circle cx="627.6" cy="911.7" r="7.0" fill="#FF0000"/>
<circle cx="633.4" cy="892.1" r="7.0" fill="#FF0000"/>
<circle cx="631.3" cy="872.6" r="7.0" fill="#FF0000"/>
<circle cx="628.9" cy="853.0" r="7.0" fill="#FF0000"/>
<circle cx="627.2" cy="833.5" r="7.0" fill="#FF0000"/>
<circle cx="625.8" cy="813.9" r="7.0" fill="#FF0000"/>
<circle cx="625.8" cy="794.4" r="7.0" fill="#FF0000"/>
<circle cx="627.2" cy="774.8" r="7.0" fill="#FF0000"/>
<circle cx="628.9" cy="755.3" r="7.0" fill="#FF0000"/>
<circle cx="630.7" cy="735.8" r="7.0" fill="#FF0000"/>
<circle cx="632.0" cy="716.2" r="7.0" fill="#FF0000"/>
<circle cx="634.0" cy="696.7" r="7.0" fill="#FF0000"/>
<circle cx="636.2" cy="677.1" r="7.0" fill="#FF0000"/>
<circle cx="637.6" cy="657.6" r="7.0" fill="#FF0000"/>
<circle cx="639.0" cy="638.0" r="7.0" fill="#FF0000"/>
<circle cx="639.0" cy="618.5" r="7.0" fill="#FF0000"/>
<circle cx="641.0" cy="598.9" r="7.0" fill="#FF0000"/>
<circle cx="644.3" cy="579.4" r="7.0" fill="#FF0000"/>
<circle cx="629.0" cy="559.8" r="7.0" fill="#FF0000"/>
<circle cx="613.5" cy="540.3" r="7.0" fill="#FF0000"/>
<path d="M553.90,931.00 C554.60,927.74 556.47,917.97 558.10,911.46 C559.73,904.94 563.00,898.42 563.70,891.91 C564.40,885.39 562.53,878.88 562.30,872.37 C562.07,865.85 562.30,859.33 562.30,852.82 C562.30,846.30 562.07,839.79 562.30,833.27 C562.53,826.76 563.33,820.25 563.70,813.73 C564.07,807.22 564.13,800.70 564.50,794.18 C564.87,787.67 565.33,781.15 565.90,774.64 C566.47,768.12 567.33,761.61 567.90,755.10 C568.47,748.58 568.75,742.06 569.30,735.55 C569.85,729.03 570.80,722.52 571.20,716.00 C571.60,709.49 572.40,702.98 571.70,696.46 C571.00,689.95 569.43,683.43 567.00,676.91 C564.57,670.40 562.73,663.88 557.10,657.37 C551.47,650.86 544.53,644.34 533.20,637.83 C521.87,631.31 507.93,624.79 489.10,618.28 C470.27,611.76 446.00,605.25 420.20,598.73 C394.40,592.22 360.33,585.71 334.30,579.19 C308.27,572.68 280.27,566.16 264.00,559.64 C248.42,553.40 241.25,543.36 236.70,540.10" fill="none" stroke="#FF0000" stroke-width="2.75" stroke-linejoin="round"/>
<rect x="546.9" y="924.2" width="14" height="14" fill="#FF0000"/>
<rect x="551.1" y="904.7" width="14" height="14" fill="#FF0000"/>
<rect x="556.7" y="885.1" width="14" height="14" fill="#FF0000"/>
<rect x="555.3" y="865.6" width="14" height="14" fill="#FF0000"/>
<rect x="555.3" y="846.0" width="14" height="14" fill="#FF0000"/>
<rect x="555.3" y="826.5" width="14" height="14" fill="#FF0000"/>
<rect x="556.7" y="806.9" width="14" height="14" fill="#FF0000"/>
<rect x="557.5" y="787.4" width="14" height="14" fill="#FF0000"/>
<rect x="558.9" y="767.8" width="14" height="14" fill="#FF0000"/>
<rect x="560.9" y="748.3" width="14" height="14" fill="#FF0000"/>
<rect x="562.3" y="728.8" width="14" height="14" fill="#FF0000"/>
<rect x="564.2" y="709.2" width="14" height="14" fill="#FF0000"/>
<rect x="564.7" y="689.7" width="14" height="14" fill="#FF0000"/>
<rect x="560.0" y="670.1" width="14" height="14" fill="#FF0000"/>
<rect x="550.1" y="650.6" width="14" height="14" fill="#FF0000"/>
<rect x="526.2" y="631.0" width="14" height="14" fill="#FF0000"/>
<rect x="482.1" y="611.5" width="14" height="14" fill="#FF0000"/>
<rect x="413.2" y="591.9" width="14" height="14" fill="#FF0000"/>
<rect x="327.3" y="572.4" width="14" height="14" fill="#FF0000"/>
<rect x="257.0" y="552.8" width="14" height="14" fill="#FF0000"/>
<rect x="229.7" y="533.3" width="14" height="14" fill="#FF0000"/>
<path d="M629.60,931.00 C629.60,927.74 630.68,917.97 629.60,911.46 C628.52,904.94 625.60,898.42 623.10,891.91 C620.60,885.39 616.52,878.88 614.60,872.37 C612.68,865.85 612.67,859.33 611.60,852.82 C610.53,846.30 609.23,839.79 608.20,833.27 C607.17,826.76 605.70,820.25 605.40,813.73 C605.10,807.22 605.82,800.70 606.40,794.18 C606.98,787.67 607.65,781.15 608.90,774.64 C610.15,768.12 612.22,761.61 613.90,755.10 C615.58,748.58 617.72,742.06 619.00,735.55 C620.28,729.03 620.77,722.52 621.60,716.00 C622.43,709.49 623.15,702.98 624.00,696.46 C624.85,689.95 625.70,683.43 626.70,676.91 C627.70,670.40 628.82,663.88 630.00,657.37 C631.18,650.86 632.05,644.34 633.80,637.83 C635.55,631.31 638.00,624.79 640.50,618.28 C643.00,611.76 646.53,605.25 648.80,598.73 C651.07,592.22 655.38,585.71 654.10,579.19 C652.82,572.68 645.43,566.16 641.10,559.64 C636.77,553.13 630.27,543.36 628.10,540.10" fill="none" stroke="#3333FF" stroke-width="2.75" stroke-linejoin="round"/>
<circle cx="629.6" cy="931.2" r="7.0" fill="#3333FF"/>
<circle cx="629.6" cy="911.7" r="7.0" fill="#3333FF"/>
<circle cx="623.1" cy="892.1" r="7.0" fill="#3333FF"/>
<circle cx="614.6" cy="872.6" r="7.0" fill="#3333FF"/>
<circle cx="611.6" cy="853.0" r="7.0" fill="#3333FF"/>
<circle cx="608.2" cy="833.5" r="7.0" fill="#3333FF"/>
<circle cx="605.4" cy="813.9" r="7.0" fill="#3333FF"/>
<circle cx="606.4" cy="794.4" r="7.0" fill="#3333FF"/>
<circle cx="608.9" cy="774.8" r="7.0" fill="#3333FF"/>
<circle cx="613.9" cy="755.3" r="7.0" fill="#3333FF"/>
<circle cx="619.0" cy="735.8" r="7.0" fill="#3333FF"/>
<circle cx="621.6" cy="716.2" r="7.0" fill="#3333FF"/>
<circle cx="624.0" cy="696.7" r="7.0" fill="#3333FF"/>
<circle cx="626.7" cy="677.1" r="7.0" fill="#3333FF"/>
<circle cx="630.0" cy="657.6" r="7.0" fill="#3333FF"/>
<circle cx="633.8" cy="638.0" r="7.0" fill="#3333FF"/>
<circle cx="640.5" cy="618.5" r="7.0" fill="#3333FF"/>
<circle cx="648.8" cy="598.9" r="7.0" fill="#3333FF"/>
<circle cx="654.1" cy="579.4" r="7.0" fill="#3333FF"/>
<circle cx="641.1" cy="559.8" r="7.0" fill="#3333FF"/>
<circle cx="628.1" cy="540.3" r="7.0" fill="#3333FF"/>
<path d="M529.40,931.00 C529.35,927.74 529.85,917.97 529.10,911.46 C528.35,904.94 526.40,898.42 524.90,891.91 C523.40,885.39 521.22,878.88 520.10,872.37 C518.98,865.85 518.80,859.33 518.20,852.82 C517.60,846.30 517.02,839.79 516.50,833.27 C515.98,826.76 515.30,820.25 515.10,813.73 C514.90,807.22 515.07,800.70 515.30,794.18 C515.53,787.67 516.17,781.15 516.50,774.64 C516.83,768.12 517.18,761.61 517.30,755.10 C517.42,748.58 517.45,742.06 517.20,735.55 C516.95,729.03 516.32,722.52 515.80,716.00 C515.28,709.49 514.57,702.98 514.10,696.46 C513.63,689.95 513.33,683.43 513.00,676.91 C512.67,670.40 512.25,663.88 512.10,657.37 C511.95,650.86 511.72,644.34 512.10,637.83 C512.48,631.31 513.78,624.79 514.40,618.28 C515.02,611.76 516.42,605.25 515.80,598.73 C515.18,592.22 514.83,585.71 510.70,579.19 C506.57,572.68 496.95,566.16 491.00,559.64 C485.05,553.13 477.67,543.36 475.00,540.10" fill="none" stroke="#3333FF" stroke-width="2.75" stroke-linejoin="round"/>
<rect x="522.4" y="924.2" width="14" height="14" fill="#3333FF"/>
<rect x="522.1" y="904.7" width="14" height="14" fill="#3333FF"/>
<rect x="517.9" y="885.1" width="14" height="14" fill="#3333FF"/>
<rect x="513.1" y="865.6" width="14" height="14" fill="#3333FF"/>
<rect x="511.2" y="846.0" width="14" height="14" fill="#3333FF"/>
<rect x="509.5" y="826.5" width="14" height="14" fill="#3333FF"/>
<rect x="508.1" y="806.9" width="14" height="14" fill="#3333FF"/>
<rect x="508.3" y="787.4" width="14" height="14" fill="#3333FF"/>
<rect x="509.5" y="767.8" width="14" height="14" fill="#3333FF"/>
<rect x="510.3" y="748.3" width="14" height="14" fill="#3333FF"/>
<rect x="510.2" y="728.8" width="14" height="14" fill="#3333FF"/>
<rect x="508.8" y="709.2" width="14" height="14" fill="#3333FF"/>
<rect x="507.1" y="689.7" width="14" height="14" fill="#3333FF"/>
<rect x="506.0" y="670.1" width="14" height="14" fill="#3333FF"/>
<rect x="505.1" y="650.6" width="14" height="14" fill="#3333FF"/>
<rect x="505.1" y="631.0" width="14" height="14" fill="#3333FF"/>
<rect x="507.4" y="611.5" width="14" height="14" fill="#3333FF"/>
<rect x="508.8" y="591.9" width="14" height="14" fill="#3333FF"/>
<rect x="503.7" y="572.4" width="14" height="14" fill="#3333FF"/>
<rect x="484.0" y="552.8" width="14" height="14" fill="#3333FF"/>
<rect x="468.0" y="533.3" width="14" height="14" fill="#3333FF"/>
<line x1="354" y1="539.4" x2="354" y2="931" stroke="#000" stroke-width="4.7" stroke-dasharray="14.4 5.55"/>
<text x="402" y="984.6" text-anchor="middle" class="sf" font-size="21">Velocity axial [m/s]</text>
<text transform="translate(18.4,736.35) rotate(-90)" text-anchor="middle" class="sf" font-size="21.05">Normalized span (Hub to Shroud)</text>
<text x="411.8" y="1039.4" text-anchor="middle" class="sf" font-size="27.2">(b)</text>
<line x1="75.9" y1="1453.1" x2="733.5" y2="1453.1" stroke="#D9D9D9" stroke-width="1.2"/>
<line x1="75.9" y1="1415.1" x2="733.5" y2="1415.1" stroke="#D9D9D9" stroke-width="1.2"/>
<line x1="75.9" y1="1377.0" x2="733.5" y2="1377.0" stroke="#D9D9D9" stroke-width="1.2"/>
<line x1="75.9" y1="1339.0" x2="733.5" y2="1339.0" stroke="#D9D9D9" stroke-width="1.2"/>
<line x1="75.9" y1="1300.9" x2="733.5" y2="1300.9" stroke="#D9D9D9" stroke-width="1.2"/>
<line x1="75.9" y1="1262.9" x2="733.5" y2="1262.9" stroke="#D9D9D9" stroke-width="1.2"/>
<line x1="75.9" y1="1224.9" x2="733.5" y2="1224.9" stroke="#D9D9D9" stroke-width="1.2"/>
<line x1="75.9" y1="1186.8" x2="733.5" y2="1186.8" stroke="#D9D9D9" stroke-width="1.2"/>
<line x1="75.9" y1="1148.8" x2="733.5" y2="1148.8" stroke="#D9D9D9" stroke-width="1.2"/>
<line x1="75.9" y1="1110.7" x2="733.5" y2="1110.7" stroke="#D9D9D9" stroke-width="1.2"/>
<line x1="75.9" y1="1072.7" x2="733.5" y2="1072.7" stroke="#D9D9D9" stroke-width="1.2"/>
<line x1="75.9" y1="1072.7" x2="75.9" y2="1453.1" stroke="#D9D9D9" stroke-width="1.2"/>
<line x1="158.1" y1="1072.7" x2="158.1" y2="1453.1" stroke="#D9D9D9" stroke-width="1.2"/>
<line x1="240.3" y1="1072.7" x2="240.3" y2="1453.1" stroke="#D9D9D9" stroke-width="1.2"/>
<line x1="322.5" y1="1072.7" x2="322.5" y2="1453.1" stroke="#D9D9D9" stroke-width="1.2"/>
<line x1="404.7" y1="1072.7" x2="404.7" y2="1453.1" stroke="#D9D9D9" stroke-width="1.2"/>
<line x1="486.9" y1="1072.7" x2="486.9" y2="1453.1" stroke="#D9D9D9" stroke-width="1.2"/>
<line x1="569.1" y1="1072.7" x2="569.1" y2="1453.1" stroke="#D9D9D9" stroke-width="1.2"/>
<line x1="651.3" y1="1072.7" x2="651.3" y2="1453.1" stroke="#D9D9D9" stroke-width="1.2"/>
<line x1="733.5" y1="1072.7" x2="733.5" y2="1453.1" stroke="#D9D9D9" stroke-width="1.2"/>
<line x1="75.5" y1="1072.7" x2="75.5" y2="1453.1" stroke="#CFCFCF" stroke-width="1.5"/><line x1="74.8" y1="1453.1" x2="733.5" y2="1453.1" stroke="#C2C2C2" stroke-width="1.7"/>
<text x="58.3" y="1460.2" text-anchor="end" class="sf" font-size="21">0</text>
<text x="58.3" y="1422.2" text-anchor="end" class="sf" font-size="21">0.1</text>
<text x="58.3" y="1384.2" text-anchor="end" class="sf" font-size="21">0.2</text>
<text x="58.3" y="1346.1" text-anchor="end" class="sf" font-size="21">0.3</text>
<text x="58.3" y="1308.1" text-anchor="end" class="sf" font-size="21">0.4</text>
<text x="58.3" y="1270.0" text-anchor="end" class="sf" font-size="21">0.5</text>
<text x="58.3" y="1232.0" text-anchor="end" class="sf" font-size="21">0.6</text>
<text x="58.3" y="1194.0" text-anchor="end" class="sf" font-size="21">0.7</text>
<text x="58.3" y="1155.9" text-anchor="end" class="sf" font-size="21">0.8</text>
<text x="58.3" y="1117.9" text-anchor="end" class="sf" font-size="21">0.9</text>
<text x="58.3" y="1079.8" text-anchor="end" class="sf" font-size="21">1</text>
<text x="75.9" y="1484.3" text-anchor="middle" class="sf" font-size="21">-6</text>
<text x="158.1" y="1484.3" text-anchor="middle" class="sf" font-size="21">-4</text>
<text x="240.3" y="1484.3" text-anchor="middle" class="sf" font-size="21">-2</text>
<text x="322.5" y="1484.3" text-anchor="middle" class="sf" font-size="21">0</text>
<text x="404.7" y="1484.3" text-anchor="middle" class="sf" font-size="21">2</text>
<text x="486.9" y="1484.3" text-anchor="middle" class="sf" font-size="21">4</text>
<text x="569.1" y="1484.3" text-anchor="middle" class="sf" font-size="21">6</text>
<text x="651.3" y="1484.3" text-anchor="middle" class="sf" font-size="21">8</text>
<text x="733.5" y="1484.3" text-anchor="middle" class="sf" font-size="21">10</text>
<text x="112.6" y="1146.5" class="sf" font-size="21.2">Recirculation region</text>
<line x1="135" y1="1172" x2="281.4" y2="1172" stroke="#000" stroke-width="2"/>
<polygon points="127,1172 136.8,1167.1 136.8,1176.9" fill="#000"/>
<rect x="121.5" y="1218.35" width="138" height="203.4" fill="#fff"/>
<line x1="80.4" y1="1229.8" x2="118.9" y2="1229.8" stroke="#000000" stroke-width="2.3"/>
<circle cx="99.6" cy="1229.8" r="7.5" fill="#000000"/>
<text x="0" y="0" class="ss thin" font-size="24" transform="translate(126.6,1238.2) scale(1,1.1)">IGV</text>
<text x="0" y="0" class="ss thin" font-size="24.5" letter-spacing="1" transform="translate(178.5,1238.2) scale(1,1.1)">0°</text>
<text x="231.4" y="1238.1" class="sf" font-size="25.5" transform="translate(0,1238.1) scale(1,1.04) translate(0,-1238.1)">Φ</text>
<rect x="251.4" y="1230.0" width="13" height="15" fill="#fff"/>
<text x="0" y="0" class="sfi thin2" font-size="19.5" transform="translate(252.4,1244.0) scale(1.22,0.96)">d</text>
<line x1="80.4" y1="1265.5" x2="118.9" y2="1265.5" stroke="#000000" stroke-width="2.3"/>
<rect x="92.1" y="1258.0" width="15" height="15" fill="#000000"/>
<text x="0" y="0" class="ss thin" font-size="24" transform="translate(126.6,1274.9) scale(1,1.1)">IGV</text>
<text x="0" y="0" class="ss thin" font-size="24.5" letter-spacing="1" transform="translate(178.5,1274.9) scale(1,1.1)">0°</text>
<text x="231.4" y="1274.8" class="sf" font-size="25.5" transform="translate(0,1274.8) scale(1,1.04) translate(0,-1274.8)">Φ</text>
<rect x="251.4" y="1266.9" width="38" height="14" fill="#fff"/>
<text x="0" y="0" class="sf thin2" font-size="16" transform="translate(252.4,1279.9) scale(1.12,1)">0</text>
<text x="0" y="0" class="sf thin2" font-size="16" transform="translate(261.0,1279.9) scale(1.12,1)">.</text>
<text x="0" y="0" class="sf thin2" font-size="16" transform="translate(266.7,1279.9) scale(1.12,1)">6</text>
<text x="0" y="0" class="sfi thin2" font-size="19.5" transform="translate(277.3,1279.9) scale(1.22,0.96)">d</text>
<line x1="80.4" y1="1302.1" x2="118.9" y2="1302.1" stroke="#FF0000" stroke-width="2.3"/>
<circle cx="99.6" cy="1302.1" r="7.5" fill="#FF0000"/>
<text x="0" y="0" class="ss thin" font-size="24" transform="translate(126.6,1311.5) scale(1,1.1)">IGV</text>
<text x="0" y="0" class="ss thin" font-size="24.5" letter-spacing="1" transform="translate(178.5,1311.5) scale(1,1.1)">25°</text>
<text x="228.20000000000002" y="1311.4" class="sf" font-size="25.5" transform="translate(0,1311.4) scale(1,1.04) translate(0,-1311.4)">Φ</text>
<rect x="248.2" y="1303.3" width="13" height="15" fill="#fff"/>
<text x="0" y="0" class="sfi thin2" font-size="19.5" transform="translate(249.2,1317.3) scale(1.22,0.96)">d</text>
<line x1="80.4" y1="1338.2" x2="118.9" y2="1338.2" stroke="#FF0000" stroke-width="2.3"/>
<rect x="92.1" y="1330.8" width="15" height="15" fill="#FF0000"/>
<text x="0" y="0" class="ss thin" font-size="24" transform="translate(126.6,1348.2) scale(1,1.1)">IGV</text>
<text x="0" y="0" class="ss thin" font-size="24.5" letter-spacing="1" transform="translate(178.5,1348.2) scale(1,1.1)">25°</text>
<text x="228.20000000000002" y="1348.1" class="sf" font-size="25.5" transform="translate(0,1348.1) scale(1,1.04) translate(0,-1348.1)">Φ</text>
<rect x="248.2" y="1340.2" width="38" height="14" fill="#fff"/>
<text x="0" y="0" class="sf thin2" font-size="16" transform="translate(249.2,1353.2) scale(1.12,1)">0</text>
<text x="0" y="0" class="sf thin2" font-size="16" transform="translate(257.8,1353.2) scale(1.12,1)">.</text>
<text x="0" y="0" class="sf thin2" font-size="16" transform="translate(263.5,1353.2) scale(1.12,1)">6</text>
<text x="0" y="0" class="sfi thin2" font-size="19.5" transform="translate(274.1,1353.2) scale(1.22,0.96)">d</text>
<line x1="80.4" y1="1374.8" x2="118.9" y2="1374.8" stroke="#3333FF" stroke-width="2.3"/>
<circle cx="99.6" cy="1374.8" r="7.5" fill="#3333FF"/>
<text x="0" y="0" class="ss thin" font-size="24" transform="translate(126.6,1384.8) scale(1,1.1)">IGV</text>
<text x="0" y="0" class="ss thin" font-size="24.5" letter-spacing="1" transform="translate(178.5,1384.8) scale(1,1.1)">45°</text>
<text x="228.20000000000002" y="1384.7" class="sf" font-size="25.5" transform="translate(0,1384.7) scale(1,1.04) translate(0,-1384.7)">Φ</text>
<rect x="248.2" y="1376.6" width="13" height="15" fill="#fff"/>
<text x="0" y="0" class="sfi thin2" font-size="19.5" transform="translate(249.2,1390.6) scale(1.22,0.96)">d</text>
<line x1="80.4" y1="1411.2" x2="118.9" y2="1411.2" stroke="#3333FF" stroke-width="2.3"/>
<rect x="92.1" y="1403.8" width="15" height="15" fill="#3333FF"/>
<text x="0" y="0" class="ss thin" font-size="24" transform="translate(126.6,1421.5) scale(1,1.1)">IGV</text>
<text x="0" y="0" class="ss thin" font-size="24.5" letter-spacing="1" transform="translate(178.5,1421.5) scale(1,1.1)">45°</text>
<text x="224.5" y="1421.4" class="sf" font-size="25.5" transform="translate(0,1421.4) scale(1,1.04) translate(0,-1421.4)">Φ</text>
<rect x="244.5" y="1413.5" width="38" height="14" fill="#fff"/>
<text x="0" y="0" class="sf thin2" font-size="16" transform="translate(245.5,1426.5) scale(1.12,1)">0</text>
<text x="0" y="0" class="sf thin2" font-size="16" transform="translate(254.1,1426.5) scale(1.12,1)">.</text>
<text x="0" y="0" class="sf thin2" font-size="16" transform="translate(259.8,1426.5) scale(1.12,1)">6</text>
<text x="0" y="0" class="sfi thin2" font-size="19.5" transform="translate(270.4,1426.5) scale(1.22,0.96)">d</text>
<path d="M574.30,1453.10 C576.18,1449.93 582.15,1440.42 585.60,1434.08 C589.05,1427.74 593.35,1421.40 595.00,1415.06 C596.65,1408.72 595.25,1402.38 595.50,1396.04 C595.75,1389.70 596.08,1383.36 596.50,1377.02 C596.92,1370.68 597.38,1364.34 598.00,1358.00 C598.62,1351.66 599.50,1345.32 600.20,1338.98 C600.90,1332.64 601.82,1326.30 602.20,1319.96 C602.58,1313.62 602.53,1307.28 602.50,1300.94 C602.47,1294.60 602.67,1288.26 602.00,1281.92 C601.33,1275.58 598.95,1269.24 598.50,1262.90 C598.05,1256.56 599.43,1250.22 599.30,1243.88 C599.17,1237.54 598.20,1231.20 597.70,1224.86 C597.20,1218.52 596.72,1212.18 596.30,1205.84 C595.88,1199.50 595.47,1193.16 595.20,1186.82 C594.93,1180.48 594.30,1174.14 594.70,1167.80 C595.10,1161.46 596.40,1155.12 597.60,1148.78 C598.80,1142.44 607.60,1136.10 601.90,1129.76 C596.20,1123.42 584.58,1114.29 563.40,1110.74 C525.57,1104.40 430.77,1098.06 374.90,1091.72 C319.03,1085.38 252.65,1075.87 228.20,1072.70" fill="none" stroke="#000000" stroke-width="2.75" stroke-linejoin="round"/>
<circle cx="574.3" cy="1453.3" r="7.0" fill="#000000"/>
<circle cx="585.6" cy="1434.3" r="7.0" fill="#000000"/>
<circle cx="595.0" cy="1415.3" r="7.0" fill="#000000"/>
<circle cx="595.5" cy="1396.2" r="7.0" fill="#000000"/>
<circle cx="596.5" cy="1377.2" r="7.0" fill="#000000"/>
<circle cx="598.0" cy="1358.2" r="7.0" fill="#000000"/>
<circle cx="600.2" cy="1339.2" r="7.0" fill="#000000"/>
<circle cx="602.2" cy="1320.2" r="7.0" fill="#000000"/>
<circle cx="602.5" cy="1301.1" r="7.0" fill="#000000"/>
<circle cx="602.0" cy="1282.1" r="7.0" fill="#000000"/>
<circle cx="598.5" cy="1263.1" r="7.0" fill="#000000"/>
<circle cx="599.3" cy="1244.1" r="7.0" fill="#000000"/>
<circle cx="597.7" cy="1225.1" r="7.0" fill="#000000"/>
<circle cx="596.3" cy="1206.0" r="7.0" fill="#000000"/>
<circle cx="595.2" cy="1187.0" r="7.0" fill="#000000"/>
<circle cx="594.7" cy="1168.0" r="7.0" fill="#000000"/>
<circle cx="597.6" cy="1149.0" r="7.0" fill="#000000"/>
<circle cx="601.9" cy="1130.0" r="7.0" fill="#000000"/>
<circle cx="563.4" cy="1110.9" r="7.0" fill="#000000"/>
<circle cx="374.9" cy="1091.9" r="7.0" fill="#000000"/>
<circle cx="228.2" cy="1072.9" r="7.0" fill="#000000"/>
<path d="M579.60,1453.10 C581.17,1449.93 585.50,1440.42 589.00,1434.08 C592.50,1427.74 598.05,1421.40 600.60,1415.06 C603.15,1408.72 602.73,1402.38 604.30,1396.04 C605.87,1389.70 607.80,1383.36 610.00,1377.02 C612.20,1370.68 615.00,1364.34 617.50,1358.00 C620.00,1351.66 622.98,1345.32 625.00,1338.98 C627.02,1332.64 628.60,1326.30 629.60,1319.96 C630.60,1313.62 632.20,1307.28 631.00,1300.94 C629.80,1294.60 627.65,1288.26 622.40,1281.92 C617.15,1275.58 606.82,1269.24 599.50,1262.90 C592.18,1256.56 588.07,1250.22 578.50,1243.88 C568.93,1237.54 554.95,1231.20 542.10,1224.86 C529.25,1218.52 515.48,1212.18 501.40,1205.84 C487.32,1199.50 472.53,1193.16 457.60,1186.82 C442.67,1180.48 427.07,1174.14 411.80,1167.80 C396.53,1161.46 381.75,1155.12 366.00,1148.78 C350.25,1142.44 333.77,1136.10 317.30,1129.76 C300.83,1123.42 290.17,1117.08 267.20,1110.74 C244.23,1104.40 204.37,1098.06 179.50,1091.72 C154.63,1085.38 128.25,1075.87 118.00,1072.70" fill="none" stroke="#000000" stroke-width="2.75" stroke-linejoin="round"/>
<rect x="572.6" y="1446.3" width="14" height="14" fill="#000000"/>
<rect x="582.0" y="1427.3" width="14" height="14" fill="#000000"/>
<rect x="593.6" y="1408.3" width="14" height="14" fill="#000000"/>
<rect x="597.3" y="1389.2" width="14" height="14" fill="#000000"/>
<rect x="603.0" y="1370.2" width="14" height="14" fill="#000000"/>
<rect x="610.5" y="1351.2" width="14" height="14" fill="#000000"/>
<rect x="618.0" y="1332.2" width="14" height="14" fill="#000000"/>
<rect x="622.6" y="1313.2" width="14" height="14" fill="#000000"/>
<rect x="624.0" y="1294.1" width="14" height="14" fill="#000000"/>
<rect x="615.4" y="1275.1" width="14" height="14" fill="#000000"/>
<rect x="592.5" y="1256.1" width="14" height="14" fill="#000000"/>
<rect x="571.5" y="1237.1" width="14" height="14" fill="#000000"/>
<rect x="535.1" y="1218.1" width="14" height="14" fill="#000000"/>
<rect x="494.4" y="1199.0" width="14" height="14" fill="#000000"/>
<rect x="450.6" y="1180.0" width="14" height="14" fill="#000000"/>
<rect x="404.8" y="1161.0" width="14" height="14" fill="#000000"/>
<rect x="359.0" y="1142.0" width="14" height="14" fill="#000000"/>
<rect x="310.3" y="1123.0" width="14" height="14" fill="#000000"/>
<rect x="260.2" y="1103.9" width="14" height="14" fill="#000000"/>
<rect x="172.5" y="1084.9" width="14" height="14" fill="#000000"/>
<rect x="111.0" y="1065.9" width="14" height="14" fill="#000000"/>
<path d="M558.50,1453.10 C561.25,1449.93 570.50,1440.42 575.00,1434.08 C579.50,1427.74 583.50,1421.40 585.50,1415.06 C587.50,1408.72 586.08,1402.38 587.00,1396.04 C587.92,1389.70 589.83,1383.36 591.00,1377.02 C592.17,1370.68 593.17,1364.34 594.00,1358.00 C594.83,1351.66 595.25,1345.32 596.00,1338.98 C596.75,1332.64 598.05,1326.30 598.50,1319.96 C598.95,1313.62 598.90,1307.28 598.70,1300.94 C598.50,1294.60 597.75,1288.26 597.30,1281.92 C596.85,1275.58 596.10,1269.24 596.00,1262.90 C595.90,1256.56 596.93,1250.22 596.70,1243.88 C596.47,1237.54 595.50,1231.20 594.60,1224.86 C593.70,1218.52 592.08,1212.18 591.30,1205.84 C590.52,1199.50 590.33,1193.16 589.90,1186.82 C589.47,1180.48 588.70,1174.14 588.70,1167.80 C588.70,1161.46 589.30,1155.12 589.90,1148.78 C590.50,1142.44 593.92,1136.10 592.30,1129.76 C590.68,1123.42 591.21,1113.14 580.20,1110.74 C551.12,1104.40 468.92,1098.06 417.80,1091.72 C366.68,1085.38 297.55,1075.87 273.50,1072.70" fill="none" stroke="#FF0000" stroke-width="2.75" stroke-linejoin="round"/>
<circle cx="558.5" cy="1453.3" r="7.0" fill="#FF0000"/>
<circle cx="575.0" cy="1434.3" r="7.0" fill="#FF0000"/>
<circle cx="585.5" cy="1415.3" r="7.0" fill="#FF0000"/>
<circle cx="587.0" cy="1396.2" r="7.0" fill="#FF0000"/>
<circle cx="591.0" cy="1377.2" r="7.0" fill="#FF0000"/>
<circle cx="594.0" cy="1358.2" r="7.0" fill="#FF0000"/>
<circle cx="596.0" cy="1339.2" r="7.0" fill="#FF0000"/>
<circle cx="598.5" cy="1320.2" r="7.0" fill="#FF0000"/>
<circle cx="598.7" cy="1301.1" r="7.0" fill="#FF0000"/>
<circle cx="597.3" cy="1282.1" r="7.0" fill="#FF0000"/>
<circle cx="596.0" cy="1263.1" r="7.0" fill="#FF0000"/>
<circle cx="596.7" cy="1244.1" r="7.0" fill="#FF0000"/>
<circle cx="594.6" cy="1225.1" r="7.0" fill="#FF0000"/>
<circle cx="591.3" cy="1206.0" r="7.0" fill="#FF0000"/>
<circle cx="589.9" cy="1187.0" r="7.0" fill="#FF0000"/>
<circle cx="588.7" cy="1168.0" r="7.0" fill="#FF0000"/>
<circle cx="589.9" cy="1149.0" r="7.0" fill="#FF0000"/>
<circle cx="592.3" cy="1130.0" r="7.0" fill="#FF0000"/>
<circle cx="580.2" cy="1110.9" r="7.0" fill="#FF0000"/>
<circle cx="417.8" cy="1091.9" r="7.0" fill="#FF0000"/>
<circle cx="273.5" cy="1072.9" r="7.0" fill="#FF0000"/>
<path d="M567.80,1453.10 C569.52,1449.93 574.52,1440.42 578.10,1434.08 C581.68,1427.74 586.95,1421.40 589.30,1415.06 C591.65,1408.72 590.95,1402.38 592.20,1396.04 C593.45,1389.70 595.25,1383.36 596.80,1377.02 C598.35,1370.68 599.62,1364.34 601.50,1358.00 C603.38,1351.66 605.92,1345.32 608.10,1338.98 C610.28,1332.64 612.78,1326.30 614.60,1319.96 C616.42,1313.62 618.73,1307.28 619.00,1300.94 C619.27,1294.60 618.70,1288.26 616.20,1281.92 C613.70,1275.58 609.93,1269.24 604.00,1262.90 C598.07,1256.56 589.93,1250.22 580.60,1243.88 C571.27,1237.54 559.93,1231.20 548.00,1224.86 C536.07,1218.52 522.47,1212.18 509.00,1205.84 C495.53,1199.50 481.47,1193.16 467.20,1186.82 C452.93,1180.48 438.38,1174.14 423.40,1167.80 C408.42,1161.46 392.97,1155.12 377.30,1148.78 C361.63,1142.44 345.90,1136.10 329.40,1129.76 C312.90,1123.42 301.67,1117.08 278.30,1110.74 C254.93,1104.40 214.32,1098.06 189.20,1091.72 C164.08,1085.38 137.87,1075.87 127.60,1072.70" fill="none" stroke="#FF0000" stroke-width="2.75" stroke-linejoin="round"/>
<rect x="560.8" y="1446.3" width="14" height="14" fill="#FF0000"/>
<rect x="571.1" y="1427.3" width="14" height="14" fill="#FF0000"/>
<rect x="582.3" y="1408.3" width="14" height="14" fill="#FF0000"/>
<rect x="585.2" y="1389.2" width="14" height="14" fill="#FF0000"/>
<rect x="589.8" y="1370.2" width="14" height="14" fill="#FF0000"/>
<rect x="594.5" y="1351.2" width="14" height="14" fill="#FF0000"/>
<rect x="601.1" y="1332.2" width="14" height="14" fill="#FF0000"/>
<rect x="607.6" y="1313.2" width="14" height="14" fill="#FF0000"/>
<rect x="612.0" y="1294.1" width="14" height="14" fill="#FF0000"/>
<rect x="609.2" y="1275.1" width="14" height="14" fill="#FF0000"/>
<rect x="597.0" y="1256.1" width="14" height="14" fill="#FF0000"/>
<rect x="573.6" y="1237.1" width="14" height="14" fill="#FF0000"/>
<rect x="541.0" y="1218.1" width="14" height="14" fill="#FF0000"/>
<rect x="502.0" y="1199.0" width="14" height="14" fill="#FF0000"/>
<rect x="460.2" y="1180.0" width="14" height="14" fill="#FF0000"/>
<rect x="416.4" y="1161.0" width="14" height="14" fill="#FF0000"/>
<rect x="370.3" y="1142.0" width="14" height="14" fill="#FF0000"/>
<rect x="322.4" y="1123.0" width="14" height="14" fill="#FF0000"/>
<rect x="271.3" y="1103.9" width="14" height="14" fill="#FF0000"/>
<rect x="182.2" y="1084.9" width="14" height="14" fill="#FF0000"/>
<rect x="120.6" y="1065.9" width="14" height="14" fill="#FF0000"/>
<path d="M559.90,1453.10 C561.88,1449.93 568.18,1440.42 571.80,1434.08 C575.42,1427.74 579.93,1421.40 581.60,1415.06 C583.27,1408.72 581.07,1402.38 581.80,1396.04 C582.53,1389.70 584.68,1383.36 586.00,1377.02 C587.32,1370.68 588.58,1364.34 589.70,1358.00 C590.82,1351.66 591.88,1345.32 592.70,1338.98 C593.52,1332.64 594.22,1326.30 594.60,1319.96 C594.98,1313.62 595.13,1307.28 595.00,1300.94 C594.87,1294.60 594.23,1288.26 593.80,1281.92 C593.37,1275.58 593.12,1269.24 592.40,1262.90 C591.68,1256.56 590.75,1250.22 589.50,1243.88 C588.25,1237.54 586.38,1231.20 584.90,1224.86 C583.42,1218.52 581.78,1212.18 580.60,1205.84 C579.42,1199.50 578.47,1193.16 577.80,1186.82 C577.13,1180.48 576.80,1174.14 576.60,1167.80 C576.40,1161.46 576.40,1155.12 576.60,1148.78 C576.80,1142.44 577.80,1136.10 577.80,1129.76 C577.80,1123.42 585.64,1113.76 576.60,1110.74 C557.65,1104.40 500.68,1098.06 464.10,1091.72 C427.52,1085.38 374.93,1075.87 357.10,1072.70" fill="none" stroke="#3333FF" stroke-width="2.75" stroke-linejoin="round"/>
<circle cx="559.9" cy="1453.3" r="7.0" fill="#3333FF"/>
<circle cx="571.8" cy="1434.3" r="7.0" fill="#3333FF"/>
<circle cx="581.6" cy="1415.3" r="7.0" fill="#3333FF"/>
<circle cx="581.8" cy="1396.2" r="7.0" fill="#3333FF"/>
<circle cx="586.0" cy="1377.2" r="7.0" fill="#3333FF"/>
<circle cx="589.7" cy="1358.2" r="7.0" fill="#3333FF"/>
<circle cx="592.7" cy="1339.2" r="7.0" fill="#3333FF"/>
<circle cx="594.6" cy="1320.2" r="7.0" fill="#3333FF"/>
<circle cx="595.0" cy="1301.1" r="7.0" fill="#3333FF"/>
<circle cx="593.8" cy="1282.1" r="7.0" fill="#3333FF"/>
<circle cx="592.4" cy="1263.1" r="7.0" fill="#3333FF"/>
<circle cx="589.5" cy="1244.1" r="7.0" fill="#3333FF"/>
<circle cx="584.9" cy="1225.1" r="7.0" fill="#3333FF"/>
<circle cx="580.6" cy="1206.0" r="7.0" fill="#3333FF"/>
<circle cx="577.8" cy="1187.0" r="7.0" fill="#3333FF"/>
<circle cx="576.6" cy="1168.0" r="7.0" fill="#3333FF"/>
<circle cx="576.6" cy="1149.0" r="7.0" fill="#3333FF"/>
<circle cx="577.8" cy="1130.0" r="7.0" fill="#3333FF"/>
<circle cx="576.6" cy="1110.9" r="7.0" fill="#3333FF"/>
<circle cx="464.1" cy="1091.9" r="7.0" fill="#3333FF"/>
<circle cx="357.1" cy="1072.9" r="7.0" fill="#3333FF"/>
<path d="M534.10,1453.10 C535.18,1449.93 538.27,1440.42 540.60,1434.08 C542.93,1427.74 546.70,1421.40 548.10,1415.06 C549.50,1408.72 548.32,1402.38 549.00,1396.04 C549.68,1389.70 551.10,1383.36 552.20,1377.02 C553.30,1370.68 554.32,1364.34 555.60,1358.00 C556.88,1351.66 558.33,1345.32 559.90,1338.98 C561.47,1332.64 563.08,1326.30 565.00,1319.96 C566.92,1313.62 569.10,1307.28 571.40,1300.94 C573.70,1294.60 576.57,1288.26 578.80,1281.92 C581.03,1275.58 584.10,1269.24 584.80,1262.90 C585.50,1256.56 585.33,1250.22 583.00,1243.88 C580.67,1237.54 576.87,1231.20 570.80,1224.86 C564.73,1218.52 556.60,1212.18 546.60,1205.84 C536.60,1199.50 524.35,1193.16 510.80,1186.82 C497.25,1180.48 481.92,1174.14 465.30,1167.80 C448.68,1161.46 429.77,1155.12 411.10,1148.78 C392.43,1142.44 373.15,1136.10 353.30,1129.76 C333.45,1123.42 318.73,1117.08 292.00,1110.74 C265.27,1104.40 220.75,1098.06 192.90,1091.72 C165.05,1085.38 136.23,1075.87 124.90,1072.70" fill="none" stroke="#3333FF" stroke-width="2.75" stroke-linejoin="round"/>
<rect x="527.1" y="1446.3" width="14" height="14" fill="#3333FF"/>
<rect x="533.6" y="1427.3" width="14" height="14" fill="#3333FF"/>
<rect x="541.1" y="1408.3" width="14" height="14" fill="#3333FF"/>
<rect x="542.0" y="1389.2" width="14" height="14" fill="#3333FF"/>
<rect x="545.2" y="1370.2" width="14" height="14" fill="#3333FF"/>
<rect x="548.6" y="1351.2" width="14" height="14" fill="#3333FF"/>
<rect x="552.9" y="1332.2" width="14" height="14" fill="#3333FF"/>
<rect x="558.0" y="1313.2" width="14" height="14" fill="#3333FF"/>
<rect x="564.4" y="1294.1" width="14" height="14" fill="#3333FF"/>
<rect x="571.8" y="1275.1" width="14" height="14" fill="#3333FF"/>
<rect x="577.8" y="1256.1" width="14" height="14" fill="#3333FF"/>
<rect x="576.0" y="1237.1" width="14" height="14" fill="#3333FF"/>
<rect x="563.8" y="1218.1" width="14" height="14" fill="#3333FF"/>
<rect x="539.6" y="1199.0" width="14" height="14" fill="#3333FF"/>
<rect x="503.8" y="1180.0" width="14" height="14" fill="#3333FF"/>
<rect x="458.3" y="1161.0" width="14" height="14" fill="#3333FF"/>
<rect x="404.1" y="1142.0" width="14" height="14" fill="#3333FF"/>
<rect x="346.3" y="1123.0" width="14" height="14" fill="#3333FF"/>
<rect x="285.0" y="1103.9" width="14" height="14" fill="#3333FF"/>
<rect x="185.9" y="1084.9" width="14" height="14" fill="#3333FF"/>
<rect x="117.9" y="1065.9" width="14" height="14" fill="#3333FF"/>
<line x1="322.5" y1="1070.7" x2="322.5" y2="1451.8" stroke="#000" stroke-width="4.7" stroke-dasharray="14.8 5.13"/>
<text x="405" y="1515.8" text-anchor="middle" class="sf" font-size="24.1">Velocity axial [m/s]</text>
<text transform="translate(22,1263.35) rotate(-90)" text-anchor="middle" class="sf" font-size="24.2">Normalized span (Hub to Shroud)</text>
<text x="398.4" y="1566" text-anchor="middle" class="sf" font-size="27.3">(c)</text>
</svg>
</body></html>
